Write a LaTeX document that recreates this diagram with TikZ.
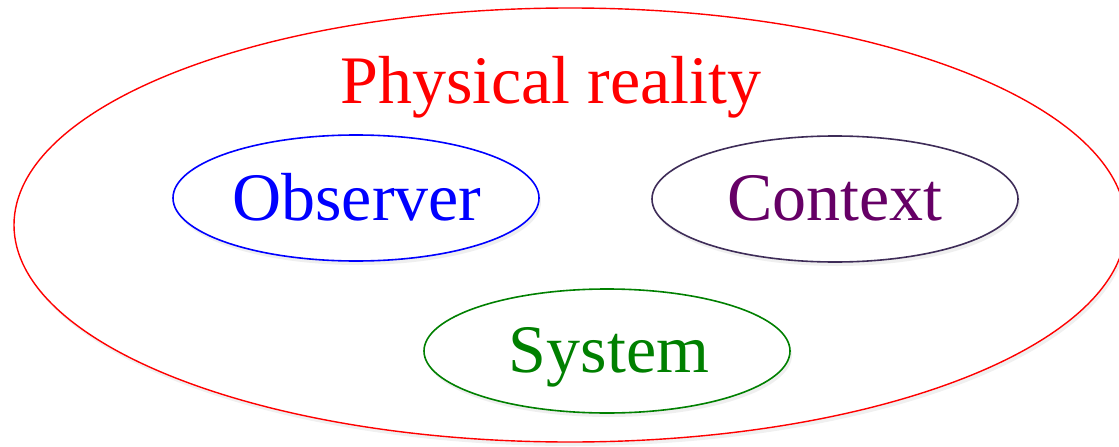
\documentclass[tikz,border=0pt]{standalone}
\usepackage{fontspec}
\setmainfont{Liberation Serif}
\usetikzlibrary{shadows,shapes.geometric}
\definecolor{ctxline}{RGB}{62,44,88}
\definecolor{ctxtext}{RGB}{102,0,102}
\definecolor{sysgreen}{RGB}{0,128,0}
\begin{document}
\begin{tikzpicture}[x=1pt,y=-1pt,
  softshadow/.style={drop shadow={opacity=0.12,shadow xshift=2pt,shadow yshift=-4pt}},
  blob/.style={shape=ellipse,line width=1.6pt,fill=white,inner sep=0pt,
    minimum width=366pt,minimum height=126pt,softshadow},
  label/.style={font=\fontsize{68}{68}\selectfont,anchor=base}]
\useasboundingbox (0,0) rectangle (1119,447);
\node[shape=ellipse,draw=red,line width=1.4pt,fill=white,inner sep=0pt,
  minimum width=1112pt,minimum height=434pt,softshadow] (reality) at (570,225) {};
\node[blob,draw=blue] (obsshape) at (356,198) {};
\node[blob,draw=ctxline] (ctxshape) at (835,199) {};
\node[blob,draw=sysgreen,minimum height=124pt] (sysshape) at (607,351) {};
\node[label,text=red] (phys) at (551,103) {Physical reality};
\node[label,text=blue] (obs) at (357,220) {Observer};
\node[label,text=ctxtext] (ctx) at (835,220) {Context};
\node[label,text=sysgreen] (sys) at (609,372) {System};
\end{tikzpicture}
\end{document}
